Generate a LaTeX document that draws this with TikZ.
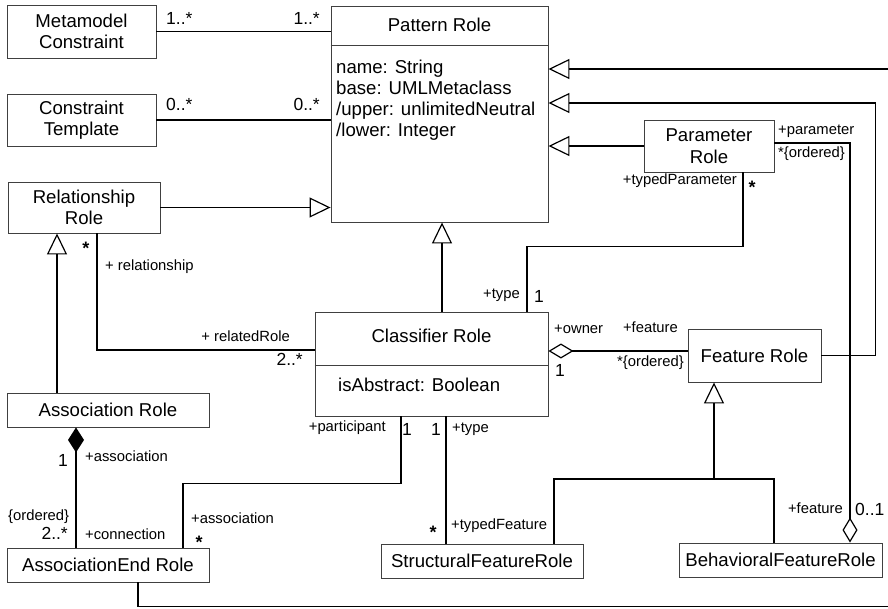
\documentclass[tikz,border=0pt]{standalone}
\usepackage{fontspec}
\setmainfont{Liberation Sans}
\usepackage{tikz}
\usetikzlibrary{calc, arrows.meta}

\begin{document}
\begin{tikzpicture}[x=1pt, y=-1pt,
    classe/.style={draw=black!75, line width=0.9pt, rectangle, inner sep=0pt, align=center, font=\fontsize{18.6}{21.5}\selectfont},
    texto/.style={inner sep=0pt, font=\fontsize{18.6}{21}\selectfont},
    rotulo/.style={inner sep=0pt, font=\fontsize{14.8}{17}\selectfont},
    mult/.style={inner sep=0pt, font=\fontsize{17.5}{20}\selectfont},
    estrela/.style={inner sep=0pt, font=\bfseries\fontsize{18}{18}\selectfont},
    liga/.style={line width=1.6pt},
    gen/.style={liga, -{Triangle[open, length=21pt, width=20pt, line width=1.2pt]}},
    agg/.style={liga, -{Diamond[open, length=25pt, width=15pt, line width=1.2pt]}},
    comp/.style={liga, -{Diamond[length=25pt, width=16pt]}}]
    \useasboundingbox (0,0) rectangle (888,608);
    % Classes:
    \node[classe, minimum width=149pt, minimum height=53pt] (mc) at (81.5,31.5) {Metamodel\\Constraint};
    \node[classe, minimum width=149pt, minimum height=52pt] (ct) at (81.5,120) {Constraint\\Template};
    \node[classe, minimum width=152pt, minimum height=51pt] (rr) at (84,207.5) {Relationship\\Role};
    \node[classe, minimum width=217pt, minimum height=216pt] (pr) at (439.5,114) {};
    \node[classe, minimum width=130pt, minimum height=52pt] (par) at (709,146) {Parameter\\Role};
    \node[classe, minimum width=233pt, minimum height=104pt] (cr) at (431.5,364) {};
    \node[classe, minimum width=133pt, minimum height=53pt] (fr) at (754.5,355.5) {Feature Role};
    \node[classe, minimum width=202pt, minimum height=34pt] (ar) at (108,410) {Association Role};
    \node[classe, minimum width=202pt, minimum height=34pt] (ae) at (108,565) {AssociationEnd Role};
    \node[classe, minimum width=202pt, minimum height=34pt] (sf) at (482,561) {StructuralFeatureRole};
    \node[classe, minimum width=203pt, minimum height=34pt] (bf) at (780.5,560) {BehavioralFeatureRole};
    % Compartimentos:
    \draw[black!75, line width=0.9pt] ([yshift=-40]pr.north west) -- ([yshift=-40]pr.north east);
    \node[texto] (prt) at (439.5,25) {Pattern Role};
    \node[texto, anchor=north west, align=left] (pra) at (336,60) {name: String\\base: UMLMetaclass\\/upper: unlimitedNeutral\\/lower: Integer};
    \draw[black!75, line width=0.9pt] ([yshift=-54]cr.north west) -- ([yshift=-54]cr.north east);
    \node[texto] (crt) at (431.5,336) {Classifier Role};
    \node[texto, anchor=mid west] (cra) at (338,389) {isAbstract: Boolean};
    % Ligacoes:
    \draw[liga] (mc.east) -- (mc.east -| pr.west);
    \draw[liga] (ct.east) -- (ct.east -| pr.west);
    \draw[gen] (rr.east) -- (rr.east -| pr.west);
    \draw[gen] (par.west) -- (par.west -| pr.east);
    \draw[gen] (fr.east) -- ++(54,0) |- ([yshift=11]pr.east);
    \draw[gen] ([xshift=30]ae.south) |- (895,606.5) |- ([yshift=45]pr.east);
    \draw[gen] ([xshift=10.5]cr.north) -- ([xshift=10.5]cr.north |- pr.south);
    \draw[gen] ([xshift=-51]ar.north) -- ([xshift=-51]ar.north |- rr.south);
    \draw[liga] ([xshift=13]rr.south) |- ([yshift=14]cr.west);
    \draw[liga] ([xshift=34]par.south) -- ++(0,74) -| ([xshift=95.5]cr.north);
    \draw[agg] ([yshift=4.5]fr.west) -- ([yshift=4.5]fr.west -| cr.east);
    \draw[agg] ([yshift=3]par.east) -| ([xshift=69.5]bf.north);
    \draw[comp] ([xshift=-32]ae.north) -- ([xshift=-32]ae.north |- ar.south);
    \draw[liga] ([xshift=75]ae.north) -- ++(0,-64) -| ([xshift=-30.5]cr.south);
    \draw[liga] ([xshift=14.5]cr.south) -- ([xshift=14.5]cr.south |- sf.north);
    \coordinate (j) at (714,479);
    \draw[gen] (j) -- (j |- fr.south);
    \draw[liga] ([xshift=72]sf.north) |- (j) -| ([xshift=-6.5]bf.north);
    % Multiplicidades e papeis:
    \node[mult, anchor=mid west] (m1) at (166,22) {1..*};
    \node[mult, anchor=mid east] (m2) at (320,22) {1..*};
    \node[mult, anchor=mid west] (m3) at (166,108) {0..*};
    \node[mult, anchor=mid east] (m4) at (320,108) {0..*};
    \node[rotulo, anchor=mid west] (r1) at (778,132) {+parameter};
    \node[rotulo, anchor=mid west] (r2) at (778,155) {*\{ordered\}};
    \node[rotulo, anchor=mid east] (r3) at (737,182) {+typedParameter};
    \node[estrela] (m5) at (752,187) {*};
    \node[rotulo, anchor=mid east] (r4) at (520,296) {+type};
    \node[mult] (m6) at (539,296) {1};
    \node[estrela] (m7) at (86,248) {*};
    \node[rotulo, anchor=mid west] (r5) at (105,268) {+ relationship};
    \node[rotulo, anchor=mid east] (r6) at (290,339) {+ relatedRole};
    \node[mult, anchor=mid east] (m8) at (303,363) {2..*};
    \node[rotulo, anchor=mid west] (r7) at (554,331) {+owner};
    \node[mult] (m9) at (560,370) {1};
    \node[rotulo, anchor=mid east] (r8) at (678,330) {+feature};
    \node[rotulo, anchor=mid east] (r9) at (684,364) {*\{ordered\}};
    \node[rotulo, anchor=mid east] (r10) at (843,511) {+feature};
    \node[mult, anchor=mid west] (m10) at (855,513) {0..1};
    \node[mult] (m11) at (63,460) {1};
    \node[rotulo, anchor=mid west] (r11) at (85,459) {+association};
    \node[rotulo, anchor=mid west] (r12) at (8,518) {\{ordered\}};
    \node[mult, anchor=mid east] (m12) at (68,537) {2..*};
    \node[rotulo, anchor=mid west] (r13) at (85,537) {+connection};
    \node[rotulo, anchor=mid west] (r14) at (191,521) {+association};
    \node[estrela] (m13) at (199,542) {*};
    \node[rotulo, anchor=mid east] (r15) at (386,429) {+participant};
    \node[mult] (m14) at (407,429) {1};
    \node[mult] (m15) at (436,429) {1};
    \node[rotulo, anchor=mid west] (r16) at (452,430) {+type};
    \node[estrela] (m16) at (433,532) {*};
    \node[rotulo, anchor=mid west] (r17) at (451,527) {+typedFeature};
\end{tikzpicture}
\end{document}
